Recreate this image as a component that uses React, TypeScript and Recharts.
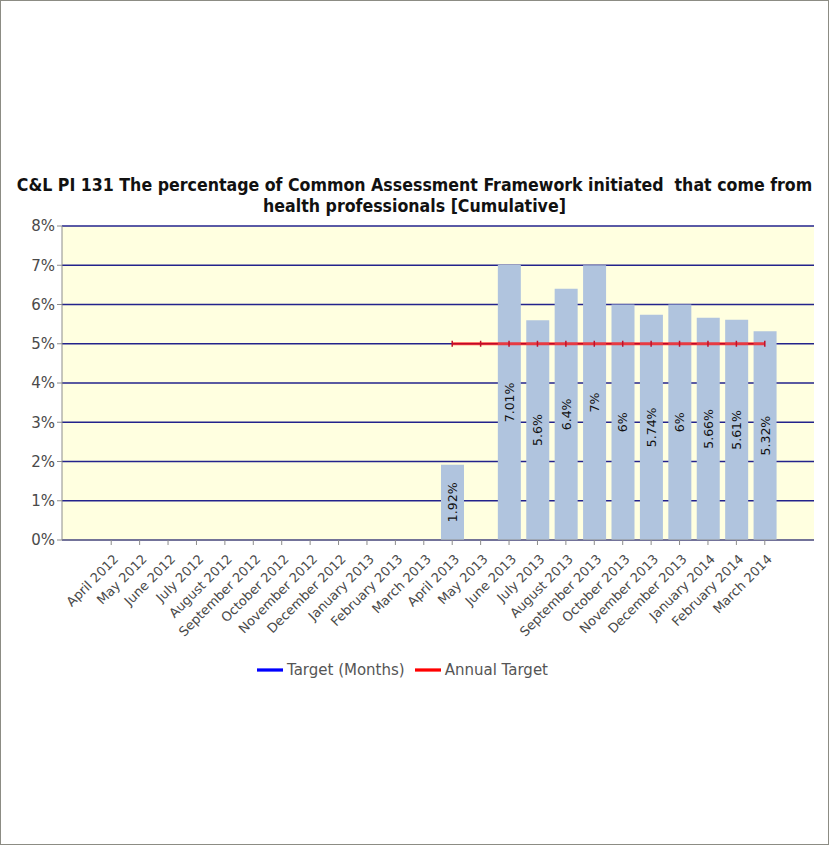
import { ComposedChart, Bar, Line, XAxis, YAxis, CartesianGrid, Legend, LabelList } from 'recharts'

const months = [
  'April 2012', 'May 2012', 'June 2012', 'July 2012', 'August 2012', 'September 2012',
  'October 2012', 'November 2012', 'December 2012', 'January 2013', 'February 2013', 'March 2013',
  'April 2013', 'May 2013', 'June 2013', 'July 2013', 'August 2013', 'September 2013',
  'October 2013', 'November 2013', 'December 2013', 'January 2014', 'February 2014', 'March 2014',
]

const actual = [
  null, null, null, null, null, null, null, null, null, null, null, null,
  1.92, null, 7.01, 5.6, 6.4, 7, 6, 5.74, 6, 5.66, 5.61, 5.32,
]

const monthlyTarget: (number | null)[] = months.map(() => null)

const annualTarget = [
  null, null, null, null, null, null, null, null, null, null, null, null,
  5, 5, 5, 5, 5, 5, 5, 5, 5, 5, 5, 5,
]

const yTicks = [0, 1, 2, 3, 4, 5, 6, 7, 8]

const legendOrder = ['Target (Months)', 'Annual Target']

const data = months.map((m, i) => ({
  month: m,
  actual: actual[i],
  target: monthlyTarget[i],
  annual: annualTarget[i],
}))

const FONT = '"DejaVu Sans", Verdana, sans-serif'

function MonthTick(props: any) {
  const { x, y, payload } = props
  const px = x + 8
  const py = y + 13
  return (
    <text
      x={px}
      y={py}
      transform={`rotate(-45 ${px} ${py})`}
      textAnchor="end"
      fontSize={13}
      fontFamily={FONT}
      fill="#4a4a4a"
    >
      {payload.value}
    </text>
  )
}

function TargetDot(props: any) {
  const { cx, cy, value } = props
  if (value == null || cx == null) return null
  return <line x1={cx} y1={cy - 3} x2={cx} y2={cy + 3} stroke="#c0102a" strokeWidth={1.5} />
}

function fmt(v: any) {
  if (v == null) return ''
  return `${v}%`
}

export default function App() {
  return (
    <div
      style={{
        position: 'absolute',
        top: 0,
        left: 0,
        width: 827,
        height: 843,
        border: '1px solid #8c8c84',
        background: '#fff',
      }}
    >
      <div
        style={{
          position: 'absolute',
          top: 174,
          left: 0,
          width: 827,
          textAlign: 'center',
          fontFamily: '"DejaVu Sans Condensed", "DejaVu Sans", sans-serif',
          fontWeight: 'bold',
          fontSize: 17.6,
          lineHeight: '21px',
          color: '#111',
          whiteSpace: 'nowrap',
        }}
      >
        C&amp;L PI 131 The percentage of Common Assessment Framework initiated&nbsp; that come from
        <br />
        health professionals [Cumulative]
      </div>
      <ComposedChart
        width={827}
        height={843}
        data={data}
        margin={{ top: 225, right: 14, bottom: 194, left: 0 }}
      >
        <CartesianGrid
          vertical={false}
          fill="#ffffe0"
          stroke="#23238c"
          strokeWidth={1.5}
          fillOpacity={1}
        />
        <XAxis
          dataKey="month"
          interval={0}
          height={110}
          padding={{ left: 35, right: 35 }}
          tick={<MonthTick />}
          tickSize={5}
          stroke="#8c8c8c"
        />
        <YAxis
          width={61}
          domain={[0, 8]}
          ticks={yTicks}
          tickFormatter={(v) => `${v}%`}
          tick={{ fontSize: 15, fontFamily: FONT, fill: '#4a4a4a' }}
          tickSize={5}
          stroke="#8c8c8c"
          interval={0}
        />
        <Bar dataKey="actual" fill="#b0c4de" barSize={23} legendType="none" isAnimationActive={false}>
          <LabelList
            dataKey="actual"
            position="center"
            angle={-90}
            formatter={fmt}
            style={{ fontSize: 12.5, fontFamily: FONT, fill: '#111' }}
          />
        </Bar>
        <Line
          dataKey="target"
          name="Target (Months)"
          stroke="#0000ff"
          strokeWidth={1.5}
          legendType="plainline"
          dot={false}
          isAnimationActive={false}
        />
        <Line
          dataKey="annual"
          name="Annual Target"
          stroke="#ff0000"
          strokeOpacity={0.7}
          strokeWidth={3}
          legendType="plainline"
          dot={<TargetDot />}
          activeDot={false}
          isAnimationActive={false}
        />
        <Legend
          verticalAlign="middle"
          align="center"
          layout="horizontal"
          iconSize={26}
          itemSorter={(item: any) => legendOrder.indexOf(item.value)}
          wrapperStyle={{ top: 656, fontFamily: FONT, fontSize: 15 }}
          formatter={(v) => <span style={{ color: '#555' }}>{v}</span>}
        />
      </ComposedChart>
    </div>
  )
}
